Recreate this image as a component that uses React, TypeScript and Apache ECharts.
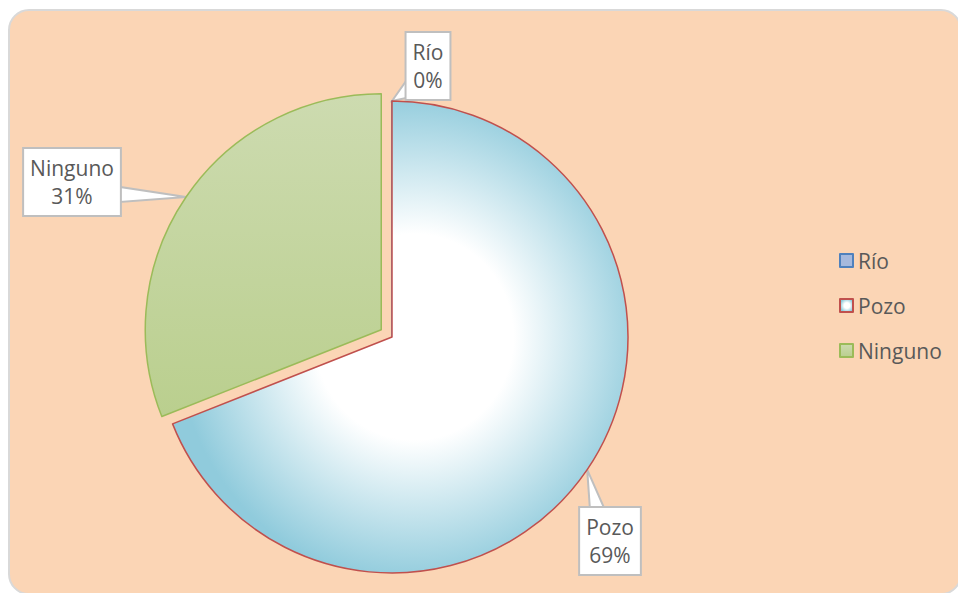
import React, { useEffect, useRef } from "react";
import * as echarts from "echarts";

const categories = ["Río", "Pozo", "Ninguno"];
const values = [0, 69, 31];
const explodedCategory = "Ninguno";

// label box centres (px) and callout wedge base points relative to the box centre
const labelCenters: Record<string, [number, number]> = {
  "Río": [430, 66],
  "Pozo": [608, 541],
  "Ninguno": [74, 182],
};
const calloutBase: Record<string, [[number, number], [number, number]]> = {
  "Río": [[-19, 8], [-19, 31]],
  "Pozo": [[-18, -31], [-3, -31]],
  "Ninguno": [[46, 5], [46, 20]],
};

const CENTER: [number, number] = [392, 337];
const RADIUS = 236;
const OFFSET = 13;
const FONT = "'Open Sans', 'Noto Sans', sans-serif";

export default function App() {
  const ref = useRef<HTMLDivElement>(null);
  useEffect(() => {
    if (!ref.current) return;
    const chart = echarts.init(ref.current, undefined, { renderer: "svg" });
    const styles: Record<string, any> = {
      "Río": { color: "#a6b9dd", borderColor: "#4f81bd", borderWidth: 1.5 },
      "Pozo": {
        color: {
          type: "radial",
          x: 0.53,
          y: 0.5,
          r: 0.52,
          colorStops: [
            { offset: 0, color: "#ffffff" },
            { offset: 0.42, color: "#ffffff" },
            { offset: 1, color: "#90cbdc" },
          ],
        },
        borderColor: "#c0504d",
        borderWidth: 1.5,
      },
      "Ninguno": {
        color: {
          type: "linear",
          x: 0, y: 0, x2: 0, y2: 1,
          colorStops: [
            { offset: 0, color: "#cddbb0" },
            { offset: 1, color: "#bacf8e" },
          ],
        },
        borderColor: "#9bbb59",
        borderWidth: 1.5,
      },
    };
    const data = categories.map((name, i) => ({
      name,
      value: values[i],
      selected: name === explodedCategory,
      itemStyle: styles[name],
    }));

    // slice mid-angle directions and explode offsets, derived from the data
    const total = values.reduce((a, b) => a + b, 0);
    let acc = 0;
    const dirs: [number, number][] = [];
    const offs: [number, number][] = [];
    categories.forEach((name, i) => {
      const start = (acc / total) * Math.PI * 2;
      acc += values[i];
      const end = (acc / total) * Math.PI * 2;
      const mid = (start + end) / 2;
      const d: [number, number] = [Math.sin(mid), -Math.cos(mid)];
      dirs.push(d);
      const o = name === explodedCategory ? OFFSET : 0;
      offs.push([d[0] * o, d[1] * o]);
    });

    const wedges = categories.map((name, i) => {
      const d = dirs[i];
      const tip = [CENTER[0] + offs[i][0] + RADIUS * d[0], CENTER[1] + offs[i][1] + RADIUS * d[1]];
      const c = labelCenters[name];
      const b = calloutBase[name];
      return {
        type: "polygon",
        z: 1,
        silent: true,
        shape: {
          points: [tip, [c[0] + b[0][0], c[1] + b[0][1]], [c[0] + b[1][0], c[1] + b[1][1]]],
        },
        style: { fill: "#ffffff", stroke: "#bfbfbf", lineWidth: 2, lineJoin: "miter" },
      };
    });

    chart.setOption({
      animation: false,
      graphic: [
        {
          type: "rect",
          z: -10,
          silent: true,
          shape: { x: 9, y: 10, width: 952, height: 584, r: 20 },
          style: { fill: "#fbd5b5", stroke: "#d9d9d9", lineWidth: 2 },
        },
        ...wedges,
      ],
      legend: {
        orient: "vertical",
        left: 834,
        top: 245,
        icon: "rect",
        itemWidth: 13,
        itemHeight: 13,
        itemGap: 24,
        selectedMode: false,
        data: categories,
        textStyle: { color: "#595959", fontSize: 21, fontFamily: FONT, lineHeight: 21 },
      },
      series: [
        {
          type: "pie",
          z: 2,
          center: CENTER,
          radius: RADIUS,
          startAngle: 90,
          clockwise: true,
          selectedMode: "single",
          selectedOffset: OFFSET,
          avoidLabelOverlap: false,
          emphasis: { disabled: true },
          data,
          label: {
            show: true,
            position: "outside",
            formatter: (p: any) => `${p.name}\n${Math.round(p.percent)}%`,
            color: "#595959",
            fontSize: 21,
            fontFamily: FONT,
            lineHeight: 28,
            backgroundColor: "#ffffff",
            borderColor: "#bfbfbf",
            borderWidth: 2,
            padding: [5, 6, 5, 6],
            align: "center",
          },
          labelLine: { show: false },
          labelLayout: (params: any) => {
            const i = params.dataIndex;
            const name = categories[i];
            const c = labelCenters[name];
            const r = params.labelRect;
            const ax =
              params.align === "right" ? r.x + r.width :
              params.align === "center" ? r.x + r.width / 2 : r.x;
            const ay =
              params.verticalAlign === "bottom" ? r.y + r.height :
              params.verticalAlign === "middle" ? r.y + r.height / 2 : r.y;
            return {
              dx: c[0] - offs[i][0] - ax,
              dy: c[1] - offs[i][1] - ay,
              align: "center",
              verticalAlign: "middle",
            };
          },
        },
      ],
    });
    return () => chart.dispose();
  }, []);
  return (
    <div
      ref={ref}
      style={{ position: "absolute", left: 0, top: 0, width: 958, height: 593, background: "#ffffff" }}
    />
  );
}
